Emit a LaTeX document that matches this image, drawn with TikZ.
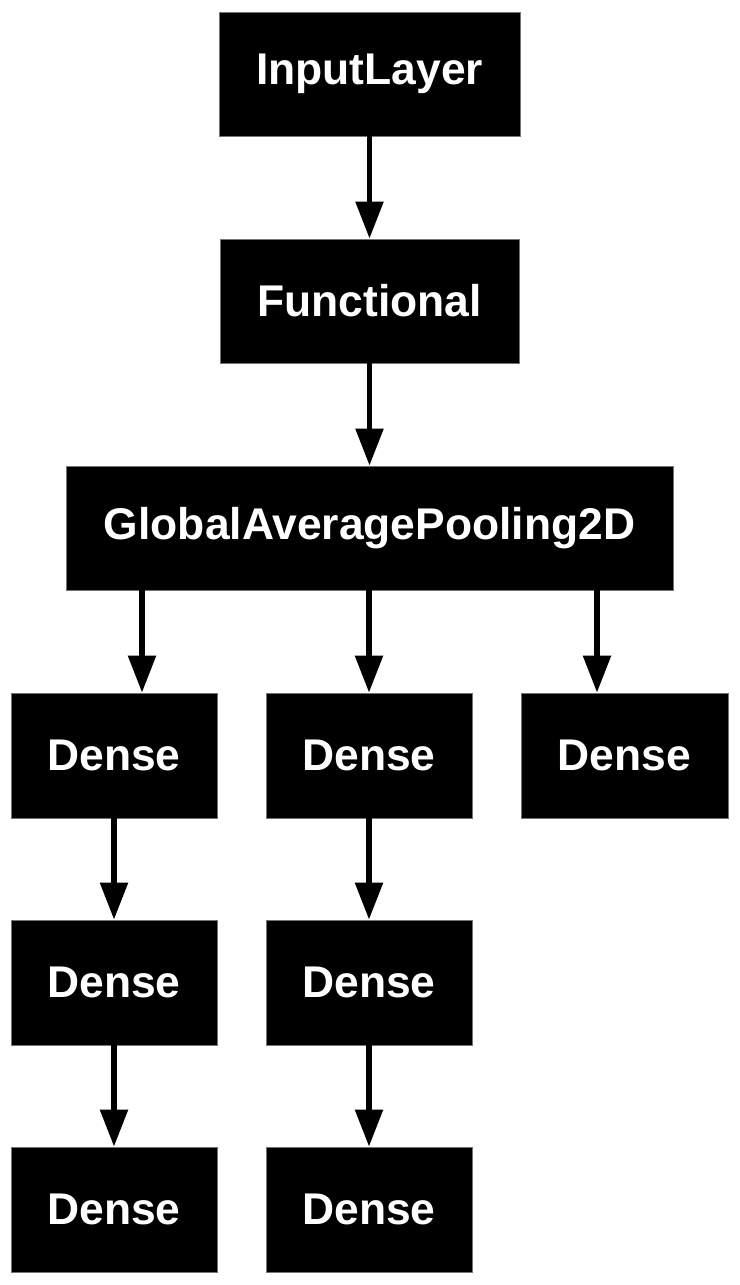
\documentclass[tikz,border=0pt]{standalone}
\usepackage{fontspec}
\newfontfamily\labfont{Liberation Sans Bold}
\usetikzlibrary{arrows.meta}
\begin{document}
\begin{tikzpicture}[x=1pt,y=-1pt,
  layer/.style={fill=black, draw=black!55, line width=0.8pt, text=white, inner sep=0pt,
    minimum height=124pt, font=\labfont\fontsize{44.4}{50}\selectfont},
  arr/.style={line width=5.5pt, -{Triangle[length=37pt,width=27pt]}}]
\useasboundingbox (0,0) rectangle (739,1285);
\node[layer, minimum width=301pt] (inp) at (369.5,74) {InputLayer};
\node[layer, minimum width=299pt] (fun) at (369.5,301) {Functional};
\node[layer, minimum width=607pt] (gap) at (369.5,528) {GlobalAveragePooling2D};
\node[layer, minimum width=206pt, minimum height=125pt] (d11) at (114,755.5) {Dense};
\node[layer, minimum width=206pt, minimum height=125pt] (d12) at (369,755.5) {Dense};
\node[layer, minimum width=207pt, minimum height=125pt] (d13) at (624.5,755.5) {Dense};
\node[layer, minimum width=206pt, minimum height=125pt] (d21) at (114,982.5) {Dense};
\node[layer, minimum width=206pt, minimum height=125pt] (d22) at (369,982.5) {Dense};
\node[layer, minimum width=206pt, minimum height=125pt] (d31) at (114,1209.5) {Dense};
\node[layer, minimum width=206pt, minimum height=125pt] (d32) at (369,1209.5) {Dense};
\draw[arr] (inp.south) -- (fun.north);
\draw[arr] (fun.south) -- (gap.north);
\draw[arr] ([xshift=28pt]d11.north |- gap.south) -- ([xshift=28pt]d11.north);
\draw[arr] (d12.north |- gap.south) -- (d12.north);
\draw[arr] ([xshift=-27.5pt]d13.north |- gap.south) -- ([xshift=-27.5pt]d13.north);
\draw[arr] (d11.south) -- (d21.north);
\draw[arr] (d12.south) -- (d22.north);
\draw[arr] (d21.south) -- (d31.north);
\draw[arr] (d22.south) -- (d32.north);
\end{tikzpicture}
\end{document}
